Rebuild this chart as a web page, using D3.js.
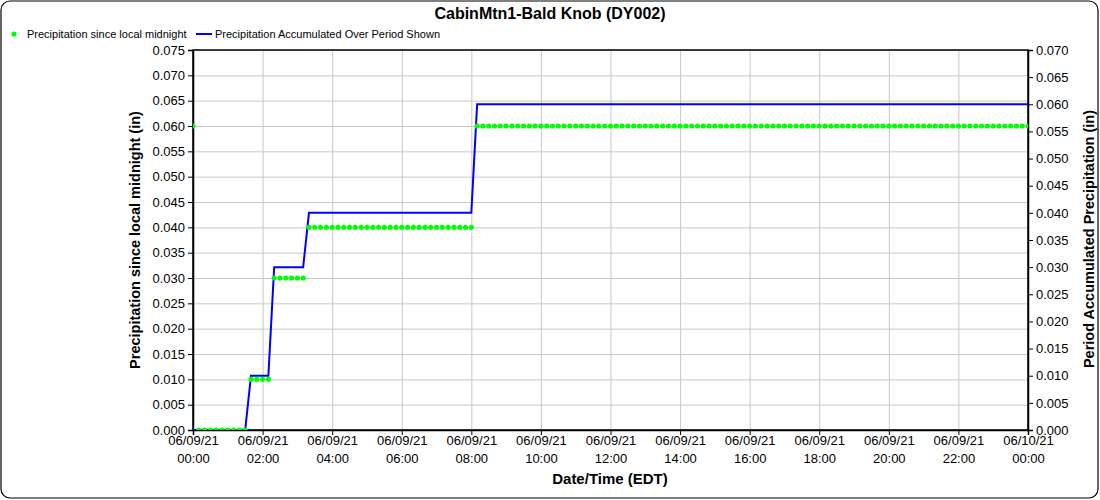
<!DOCTYPE html>
<html>
<head>
<meta charset="utf-8">
<script src="https://cdn.jsdelivr.net/npm/d3@7"></script>
<style>
  body { margin: 0; background: #fff; }
  svg { font-family: "Liberation Sans", Arial, sans-serif; }
  .grid line { stroke: #c8c8c8; stroke-width: 1; }
  .grid .domain { display: none; }
</style>
</head>
<body>
<svg class="chart" width="1100" height="500"></svg>
<script>
/*
      Data (10-minute readings, minutes since 06/09/21 00:00)
*/
const title = "CabinMtn1-Bald Knob (DY002)";
const startDate = new Date(2021, 5, 9, 0, 0);

const minutes = [
  0, 10, 20, 30, 40, 50, 60, 70, 80, 90, 100, 110, 120, 130, 140, 150, 160, 170, 180, 190,
  200, 210, 220, 230, 240, 250, 260, 270, 280, 290, 300, 310, 320, 330, 340, 350, 360, 370, 380, 390,
  400, 410, 420, 430, 440, 450, 460, 470, 480, 490, 500, 510, 520, 530, 540, 550, 560, 570, 580, 590,
  600, 610, 620, 630, 640, 650, 660, 670, 680, 690, 700, 710, 720, 730, 740, 750, 760, 770, 780, 790,
  800, 810, 820, 830, 840, 850, 860, 870, 880, 890, 900, 910, 920, 930, 940, 950, 960, 970, 980, 990,
  1000, 1010, 1020, 1030, 1040, 1050, 1060, 1070, 1080, 1090, 1100, 1110, 1120, 1130, 1140, 1150, 1160, 1170, 1180, 1190,
  1200, 1210, 1220, 1230, 1240, 1250, 1260, 1270, 1280, 1290, 1300, 1310, 1320, 1330, 1340, 1350, 1360, 1370, 1380, 1390,
  1400, 1410, 1420, 1430, 1440
];

// Precipitation since local midnight (in)
const sinceMidnight = [
  0.06, 0, 0, 0, 0, 0, 0, 0, 0, 0, 0.01, 0.01, 0.01, 0.01, 0.03, 0.03, 0.03, 0.03, 0.03, 0.03,
  0.04, 0.04, 0.04, 0.04, 0.04, 0.04, 0.04, 0.04, 0.04, 0.04, 0.04, 0.04, 0.04, 0.04, 0.04, 0.04, 0.04, 0.04, 0.04, 0.04,
  0.04, 0.04, 0.04, 0.04, 0.04, 0.04, 0.04, 0.04, 0.04, 0.06, 0.06, 0.06, 0.06, 0.06, 0.06, 0.06, 0.06, 0.06, 0.06, 0.06,
  0.06, 0.06, 0.06, 0.06, 0.06, 0.06, 0.06, 0.06, 0.06, 0.06, 0.06, 0.06, 0.06, 0.06, 0.06, 0.06, 0.06, 0.06, 0.06, 0.06,
  0.06, 0.06, 0.06, 0.06, 0.06, 0.06, 0.06, 0.06, 0.06, 0.06, 0.06, 0.06, 0.06, 0.06, 0.06, 0.06, 0.06, 0.06, 0.06, 0.06,
  0.06, 0.06, 0.06, 0.06, 0.06, 0.06, 0.06, 0.06, 0.06, 0.06, 0.06, 0.06, 0.06, 0.06, 0.06, 0.06, 0.06, 0.06, 0.06, 0.06,
  0.06, 0.06, 0.06, 0.06, 0.06, 0.06, 0.06, 0.06, 0.06, 0.06, 0.06, 0.06, 0.06, 0.06, 0.06, 0.06, 0.06, 0.06, 0.06, 0.06,
  0.06, 0.06, 0.06, 0.06, 0.06
];

// Precipitation accumulated over period shown (in)
const accumulated = [
  0, 0, 0, 0, 0, 0, 0, 0, 0, 0, 0.01, 0.01, 0.01, 0.01, 0.03, 0.03, 0.03, 0.03, 0.03, 0.03,
  0.04, 0.04, 0.04, 0.04, 0.04, 0.04, 0.04, 0.04, 0.04, 0.04, 0.04, 0.04, 0.04, 0.04, 0.04, 0.04, 0.04, 0.04, 0.04, 0.04,
  0.04, 0.04, 0.04, 0.04, 0.04, 0.04, 0.04, 0.04, 0.04, 0.06, 0.06, 0.06, 0.06, 0.06, 0.06, 0.06, 0.06, 0.06, 0.06, 0.06,
  0.06, 0.06, 0.06, 0.06, 0.06, 0.06, 0.06, 0.06, 0.06, 0.06, 0.06, 0.06, 0.06, 0.06, 0.06, 0.06, 0.06, 0.06, 0.06, 0.06,
  0.06, 0.06, 0.06, 0.06, 0.06, 0.06, 0.06, 0.06, 0.06, 0.06, 0.06, 0.06, 0.06, 0.06, 0.06, 0.06, 0.06, 0.06, 0.06, 0.06,
  0.06, 0.06, 0.06, 0.06, 0.06, 0.06, 0.06, 0.06, 0.06, 0.06, 0.06, 0.06, 0.06, 0.06, 0.06, 0.06, 0.06, 0.06, 0.06, 0.06,
  0.06, 0.06, 0.06, 0.06, 0.06, 0.06, 0.06, 0.06, 0.06, 0.06, 0.06, 0.06, 0.06, 0.06, 0.06, 0.06, 0.06, 0.06, 0.06, 0.06,
  0.06, 0.06, 0.06, 0.06, 0.06
];

const leftTicks = d3.range(0, 0.0751, 0.005);
const rightTicks = d3.range(0, 0.0701, 0.005);

/*
      Layout
*/
const svg = d3.select(".chart");
const margin = { top: 50, right: 72, bottom: 70, left: 193 };
const width = 1100 - margin.left - margin.right;
const height = 500 - margin.top - margin.bottom;

svg.append("rect")
  .attr("x", 1).attr("y", 1)
  .attr("width", 1097).attr("height", 497)
  .attr("rx", 9)
  .attr("fill", "#fff")
  .attr("stroke", "#000")
  .attr("stroke-width", 1.2);

svg.append("text")
  .attr("x", 550).attr("y", 19)
  .attr("text-anchor", "middle")
  .attr("font-size", "16px")
  .attr("font-weight", "bold")
  .text(title);

const series = minutes.map((m, i) => ({
  date: new Date(startDate.getTime() + m * 60000),
  since: sinceMidnight[i],
  acc: accumulated[i],
}));

const x = d3.scaleTime()
  .domain([startDate, new Date(startDate.getTime() + 1440 * 60000)])
  .range([0, width]);
const yLeft = d3.scaleLinear().domain([0, 0.075]).range([height, 0]);
const yRight = d3.scaleLinear().domain([0, 0.07]).range([height, 0]);

const g = svg.append("g").attr("transform", `translate(${margin.left},${margin.top})`);

svg.append("defs").append("clipPath").attr("id", "plot-clip")
  .append("rect").attr("width", width).attr("height", height);

const xTicks = d3.range(0, 13).map((k) => new Date(startDate.getTime() + k * 2 * 3600000));

// grid
g.append("g").attr("class", "grid")
  .call(d3.axisLeft(yLeft).tickValues(leftTicks).tickSize(-width).tickFormat(""));
g.append("g").attr("class", "grid")
  .attr("transform", `translate(0,${height})`)
  .call(d3.axisBottom(x).tickValues(xTicks).tickSize(-height).tickFormat(""));

// frame
g.append("rect")
  .attr("width", width).attr("height", height)
  .attr("fill", "none").attr("stroke", "#000").attr("stroke-width", 1.5);

/*
      Axes
*/
const fmt = d3.format(".3f");
const styleAxis = (sel) => {
  sel.select(".domain").attr("stroke", "#000").attr("stroke-width", 1.5);
  sel.selectAll(".tick line").attr("stroke", "#000");
  sel.selectAll(".tick text").attr("font-size", "13px").attr("fill", "#000")
    .attr("font-family", "'Liberation Sans', Arial, sans-serif");
};

g.append("g")
  .call(d3.axisLeft(yLeft).tickValues(leftTicks).tickFormat(fmt).tickSize(5).tickPadding(3))
  .call(styleAxis);

g.append("g")
  .attr("transform", `translate(${width},0)`)
  .call(d3.axisRight(yRight).tickValues(rightTicks).tickFormat(fmt).tickSize(5).tickPadding(3))
  .call(styleAxis);

const xAxis = g.append("g")
  .attr("transform", `translate(0,${height})`)
  .call(d3.axisBottom(x).tickValues(xTicks).tickFormat("").tickSize(5))
  .call(styleAxis);

const fmtDate = d3.timeFormat("%m/%d/%y");
const fmtTime = d3.timeFormat("%H:%M");
xAxis.selectAll(".tick").each(function (d) {
  const t = d3.select(this).append("text")
    .attr("fill", "#000").attr("font-size", "13px")
    .attr("text-anchor", "middle");
  t.append("tspan").attr("x", 0).attr("y", 15).text(fmtDate(d));
  t.append("tspan").attr("x", 0).attr("y", 33).text(fmtTime(d));
});

// axis titles
svg.append("text")
  .attr("x", 610).attr("y", 484)
  .attr("text-anchor", "middle")
  .attr("font-size", "15px").attr("font-weight", "bold")
  .text("Date/Time (EDT)");

svg.append("text")
  .attr("transform", `translate(140,${margin.top + height / 2}) rotate(-90)`)
  .attr("text-anchor", "middle")
  .attr("font-size", "14.5px").attr("font-weight", "bold")
  .text("Precipitation since local midnight (in)");

svg.append("text")
  .attr("transform", `translate(1094,${margin.top + height / 2 - 1}) rotate(-90)`)
  .attr("text-anchor", "middle")
  .attr("font-size", "14.5px").attr("font-weight", "bold")
  .text("Period Accumulated Precipitation (in)");

/*
      Series
*/
const plot = g.append("g").attr("clip-path", "url(#plot-clip)");

plot.append("path")
  .datum(series)
  .attr("fill", "none")
  .attr("stroke", "#0000ff")
  .attr("stroke-width", 2)
  .attr("d", d3.line().x((d) => x(d.date)).y((d) => yRight(d.acc)));

plot.append("g")
  .selectAll("circle")
  .data(series)
  .join("circle")
  .attr("cx", (d) => x(d.date))
  .attr("cy", (d) => yLeft(d.since))
  .attr("r", 2.6)
  .attr("fill", "#00ff00");

/*
      Legend
*/
const legend = svg.append("g").attr("font-size", "11px");
legend.append("circle").attr("cx", 14).attr("cy", 34).attr("r", 2.6).attr("fill", "#00ff00");
legend.append("text").attr("x", 27).attr("y", 38).text("Precipitation since local midnight");
legend.append("line")
  .attr("x1", 196).attr("x2", 212).attr("y1", 34).attr("y2", 34)
  .attr("stroke", "#0000ff").attr("stroke-width", 2);
legend.append("text").attr("x", 215).attr("y", 38).text("Precipitation Accumulated Over Period Shown");
</script>
</body>
</html>
